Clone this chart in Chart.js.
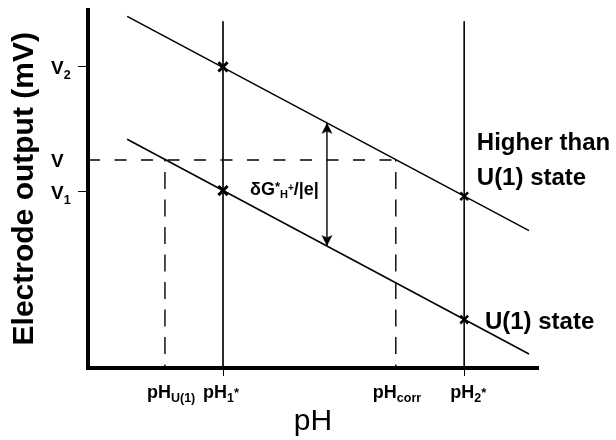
<!DOCTYPE html>
<html>
<head>
<meta charset="utf-8">
<script src="https://cdn.jsdelivr.net/npm/chart.js@4.4.0/dist/chart.umd.min.js"></script>
<style>
  html, body { margin: 0; padding: 0; background: #fff; }
</style>
</head>
<body>
<canvas id="chart" width="616" height="440"></canvas>
<script>
const FONT = "'Liberation Sans', Arial, Helvetica, sans-serif";

// pH positions along the x axis (arbitrary units)
const phU1 = 1.71;
const ph1 = 3.0;
const phCorr = 6.84;
const ph2 = 8.36;

// electrode output levels (arbitrary units)
const v1 = 4.92;
const vMid = 5.80;
const v2 = 8.40;

// the two response lines
const upperLineX = [0.87, 9.8];
const upperLineY = [9.81, 3.83];
const lowerLineX = [0.87, 9.8];
const lowerLineY = [6.38, 0.39];

// crossings marked with an x
const markerX = [3.0, 3.0, 8.36, 8.36];
const markerY = [8.40, 4.95, 4.79, 1.35];

// double arrow between the lines
const arrowX = [5.31, 5.31];
const arrowY = [6.84, 3.40];

const verticalTop = 9.67;

// axis ticks
const xTickValues = [phU1, ph1, phCorr, ph2];
const xTickLabels = [["pH", "U(1)", ""], ["pH", "1", "*"], ["pH", "corr", ""], ["pH", "2", "*"]];
const xTickMarks = [false, true, false, true];
const yTickValues = [v1, vMid, v2];
const yTickLabels = [["V", "1"], ["V", ""], ["V", "2"]];
const yTickMarks = [true, false, true];

const pts = (xs, ys) => xs.map((x, i) => ({ x: x, y: ys[i] }));

function makeArrowHead() {
    const c = document.createElement("canvas");
    c.width = 12;
    c.height = 24;
    const g = c.getContext("2d");
    g.fillStyle = "#000";
    g.beginPath();
    g.moveTo(6, 12);
    g.lineTo(11.5, 23);
    g.lineTo(6, 20.5);
    g.lineTo(0.5, 23);
    g.closePath();
    g.fill();
    return c;
}

function drawParts(ctx, x, y, parts) {
    let cx = x;
    parts.forEach((p) => {
        if (!p.t) return;
        ctx.font = `${p.weight || "bold"} ${p.size}px ${FONT}`;
        ctx.fillText(p.t, cx, y + (p.dy || 0));
        cx += ctx.measureText(p.t).width;
    });
}

// labels drawn with sub/superscripts
const textPlugin = {
    id: "richText",
    afterDraw(chart) {
        const ctx = chart.ctx;
        const xs = chart.scales.x;
        const ys = chart.scales.y;
        ctx.save();
        ctx.fillStyle = "#000";
        ctx.textBaseline = "alphabetic";
        ctx.textAlign = "left";

        // x tick labels
        const xShift = [-18, -20, -23, -14];
        xTickValues.forEach((v, i) => {
            const [main, sub, sup] = xTickLabels[i];
            drawParts(ctx, xs.getPixelForValue(v) + xShift[i], 398, [
                { t: main, size: 18 },
                { t: sub, size: 12.5, dy: 3.5 },
                { t: sup, size: 13, dy: -1 },
            ]);
        });

        // y tick labels
        yTickValues.forEach((v, i) => {
            const [main, sub] = yTickLabels[i];
            drawParts(ctx, 51, ys.getPixelForValue(v) + 7, [
                { t: main, size: 19 },
                { t: sub, size: 12.5, dy: 5 },
            ]);
        });

        // delta G label
        drawParts(ctx, xs.getPixelForValue(3.6), ys.getPixelForValue(4.83), [
            { t: "δG", size: 18 },
            { t: "*", size: 13, dy: -4 },
            { t: "H", size: 11, dy: 3 },
            { t: "+", size: 10, dy: -4 },
            { t: "/|e|", size: 18 },
        ]);

        // state labels
        ctx.font = `bold 24px ${FONT}`;
        ctx.fillText("Higher than", xs.getPixelForValue(8.64), ys.getPixelForValue(6.08));
        ctx.fillText("U(1) state", xs.getPixelForValue(8.64), ys.getPixelForValue(5.11));
        ctx.fillText("U(1) state", xs.getPixelForValue(8.82), ys.getPixelForValue(1.10));
        ctx.restore();
    },
};

const solid = (data, width) => ({
    data: data,
    showLine: true,
    borderColor: "#000",
    borderWidth: width,
    pointRadius: 0,
});

const dashed = (data, dash, offset) => ({
    data: data,
    showLine: true,
    borderColor: "#000",
    borderWidth: 1.4,
    borderDash: dash,
    borderDashOffset: offset,
    pointRadius: 0,
});

const config = {
    type: "scatter",
    data: {
        datasets: [
            {
                data: pts(markerX, markerY),
                showLine: false,
                pointStyle: "crossRot",
                pointRadius: [6.5, 6.5, 5.5, 5.5],
                pointBorderWidth: [3, 3, 2.5, 2.5],
                borderColor: "#000",
                backgroundColor: "#000",
            },
            {
                data: pts(arrowX, arrowY),
                showLine: true,
                borderColor: "#000",
                borderWidth: 1.4,
                pointStyle: makeArrowHead(),
                pointRotation: [0, 180],
                pointRadius: 6,
            },
            solid(pts(upperLineX, upperLineY), 1.5),
            solid(pts(lowerLineX, lowerLineY), 1.5),
            solid([{ x: ph1, y: verticalTop }, { x: ph1, y: 0 }], 0.9),
            solid([{ x: ph2, y: verticalTop }, { x: ph2, y: 0 }], 0.9),
            dashed([{ x: 0, y: vMid }, { x: phCorr, y: vMid }], [12, 14.5], 0),
            dashed([{ x: phU1, y: vMid }, { x: phU1, y: 0 }], [17, 10.5], 15.5),
            dashed([{ x: phCorr, y: vMid }, { x: phCorr, y: 0 }], [17, 10.5], 15.5),
        ],
    },
    options: {
        responsive: false,
        animation: false,
        devicePixelRatio: 1,
        layout: { padding: { top: 6, right: 78, left: 0, bottom: 0 } },
        plugins: {
            legend: { display: false },
            tooltip: { enabled: false },
        },
        scales: {
            x: {
                type: "linear",
                position: "bottom",
                min: 0,
                max: 10,
                border: { display: true, width: 4, color: "#000" },
                grid: {
                    drawOnChartArea: false,
                    drawTicks: true,
                    tickLength: 8,
                    lineWidth: 1,
                    color: (ctx) => (xTickMarks[ctx.index] ? "#000" : "rgba(0,0,0,0)"),
                },
                ticks: { display: false },
                afterBuildTicks: (s) => {
                    s.ticks = xTickValues.map((v) => ({ value: v }));
                },
                afterFit: (s) => {
                    s.height = 72;
                },
                title: {
                    display: true,
                    text: "pH",
                    color: "#000",
                    font: { family: FONT, size: 30, weight: "normal" },
                    padding: { top: 0, bottom: 0 },
                },
            },
            y: {
                type: "linear",
                position: "left",
                min: 0,
                max: 10,
                border: { display: true, width: 4, color: "#000" },
                grid: {
                    drawOnChartArea: false,
                    drawTicks: true,
                    tickLength: 10,
                    lineWidth: 1,
                    color: (ctx) => (yTickMarks[ctx.index] ? "#000" : "rgba(0,0,0,0)"),
                },
                ticks: { display: false },
                afterBuildTicks: (s) => {
                    s.ticks = yTickValues.map((v) => ({ value: v }));
                },
                afterFit: (s) => {
                    s.width = 88;
                },
                title: {
                    display: true,
                    text: "Electrode output (mV)",
                    color: "#000",
                    font: { family: FONT, size: 30, weight: "bold" },
                    padding: { top: 6.6, bottom: 0 },
                },
            },
        },
    },
    plugins: [textPlugin],
};

new Chart(document.getElementById("chart"), config);
</script>
</body>
</html>
